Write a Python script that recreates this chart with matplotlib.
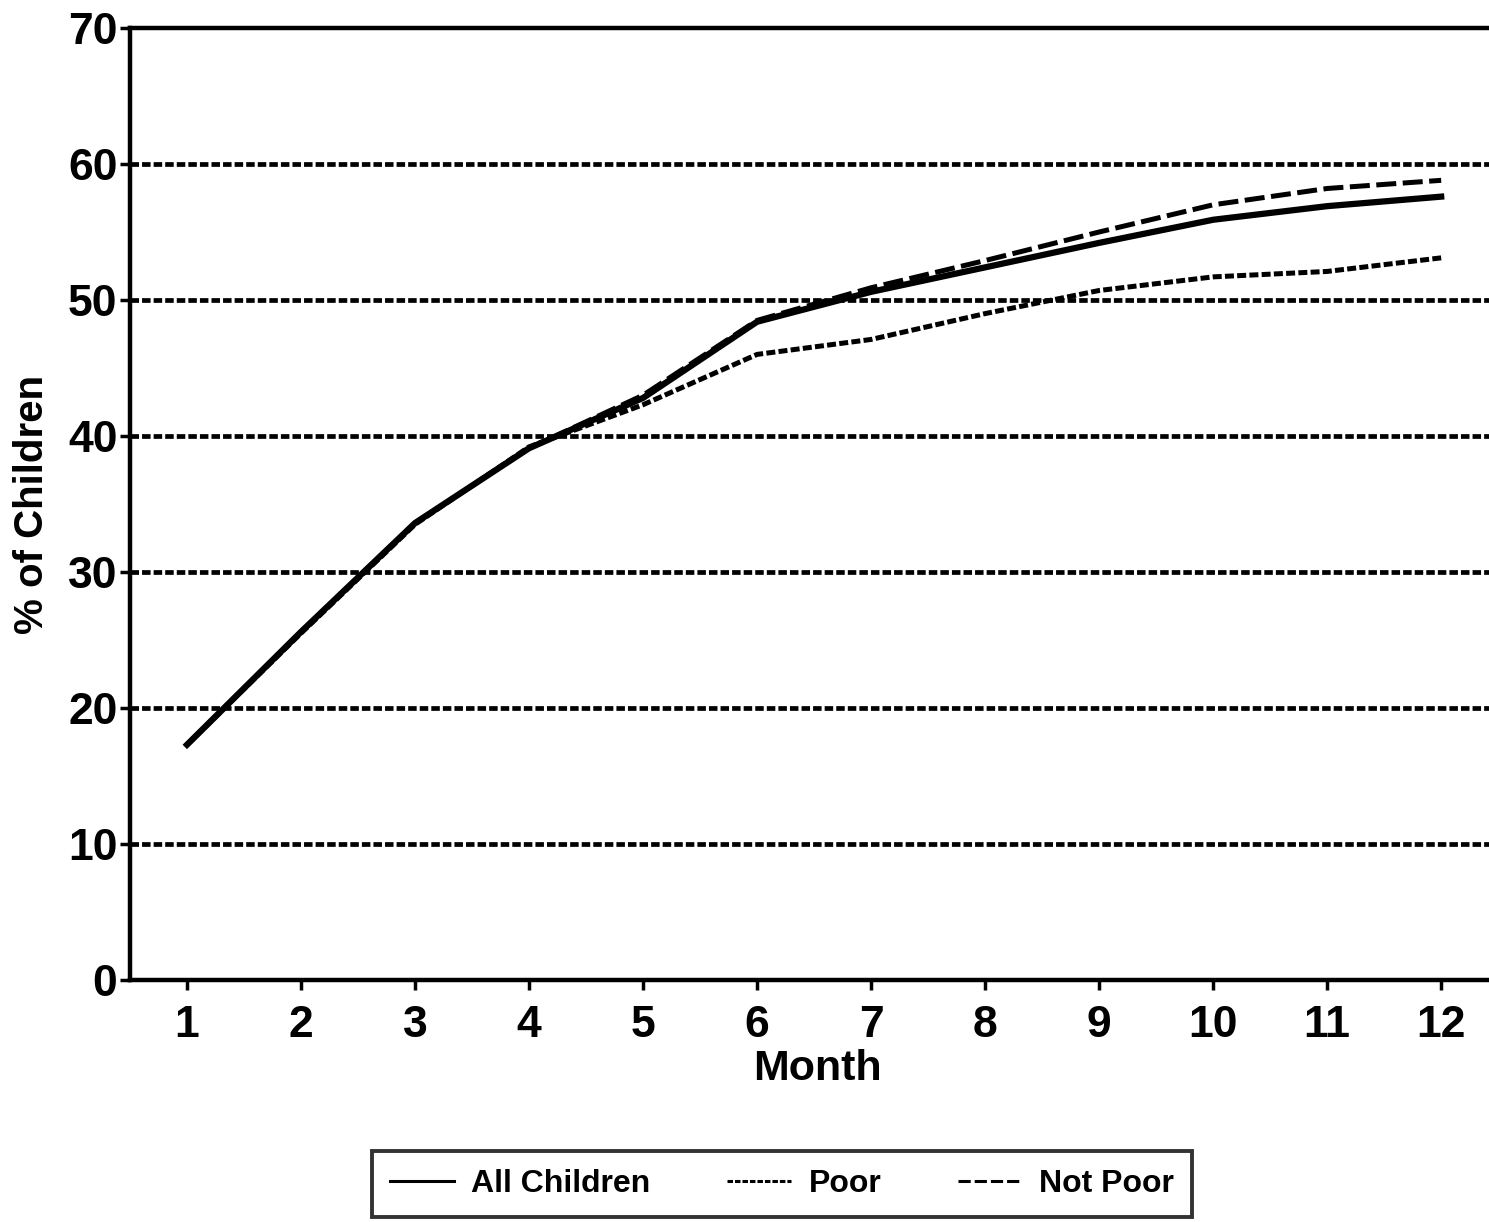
import matplotlib
matplotlib.use("Agg")
import matplotlib.pyplot as plt

# Data
months = [1, 2, 3, 4, 5, 6, 7, 8, 9, 10, 11, 12]
all_children = [17.3, 25.6, 33.6, 39.1, 42.8, 48.4, 50.6, 52.4, 54.2, 55.9, 56.9, 57.6]
poor = [17.3, 25.5, 33.5, 39.2, 42.3, 46.0, 47.1, 49.0, 50.7, 51.7, 52.1, 53.1]
not_poor = [17.3, 25.6, 33.6, 39.1, 43.0, 48.5, 50.9, 52.9, 55.0, 57.0, 58.2, 58.8]
y_ticks = [0, 10, 20, 30, 40, 50, 60, 70]

plt.rcParams["font.family"] = ["Liberation Sans", "DejaVu Sans"]
plt.rcParams["font.weight"] = "bold"
plt.rcParams["axes.labelweight"] = "bold"

DOTS = (0, (1.8, 0.65))
DASHES = (0, (4.0, 1.3))

fig = plt.figure(figsize=(14.89, 12.22), dpi=100)
ax = fig.add_axes([130 / 1489, 1 - 980 / 1222, 1 - 130 / 1489 + 0.01, (980 - 28) / 1222])

ax.plot(months, all_children, color="black", linewidth=4.5, linestyle="-",
        label="All Children", zorder=4)
ax.plot(months, poor, color="black", linewidth=3.6, linestyle=DOTS,
        label="Poor", zorder=3)
ax.plot(months, not_poor, color="black", linewidth=3.6, linestyle=DASHES,
        label="Not Poor", zorder=3)

# dotted horizontal reference lines
for y in y_ticks[1:-1]:
    ax.axhline(y, color="black", linewidth=3.4, linestyle=DOTS, zorder=1)

ax.set_xlim(0.5, 12.55)
ax.set_ylim(0, 70)
ax.set_xticks(months)
ax.set_yticks(y_ticks)
ax.tick_params(axis="both", labelsize=32, width=2.5, direction="out", length=7)
ax.tick_params(axis="y", pad=2)
ax.tick_params(axis="x", pad=11)
for s in ["left", "bottom", "top"]:
    ax.spines[s].set_linewidth(3.2)
ax.spines["right"].set_visible(False)

ax.set_xlabel("Month", fontsize=31, labelpad=2)
ax.set_ylabel("% of Children", fontsize=29, labelpad=12)

leg = fig.legend(loc="center", bbox_to_anchor=(782 / 1489, 1 - 1184 / 1222), ncol=3,
                 fontsize=23, frameon=True, fancybox=False, edgecolor="black",
                 handlelength=2.0, columnspacing=2.4, handletextpad=0.55,
                 borderpad=0.55, borderaxespad=0)
leg.get_frame().set_linewidth(2.8)
for line in leg.get_lines():
    line.set_linewidth(2.2)

fig.savefig("out.png", dpi=100, facecolor="white")
